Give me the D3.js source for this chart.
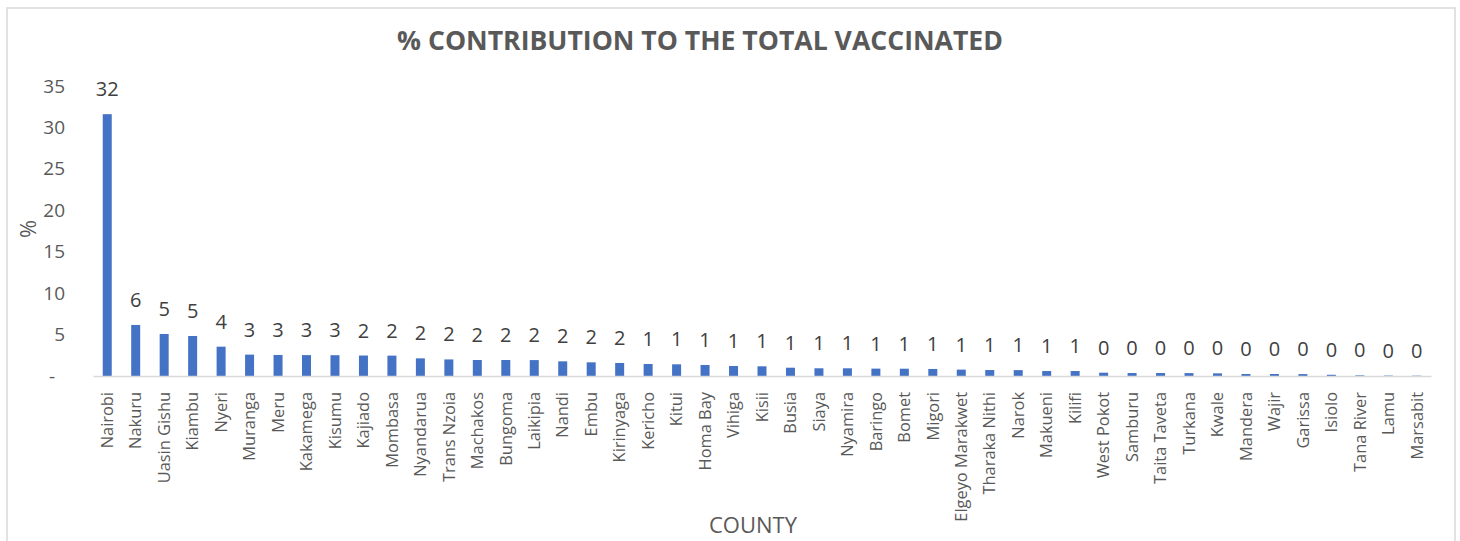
<!DOCTYPE html>
<html lang="en">
<head>
    <meta charset="UTF-8">
    <title>% Contribution to the total vaccinated</title>
    <script src="https://d3js.org/d3.v7.min.js" charset="utf-8"></script>
    <style>
        body {
            margin: 0;
            background: #fff;
            font-family: 'Open Sans', sans-serif;
        }
        #chart {
            width: 1460px;
            height: 541px;
        }
    </style>
</head>
<body>
    <div id="chart"></div>
    <script>
        // counties, in the order of the chart
        const counties = ["Nairobi", "Nakuru", "Uasin Gishu", "Kiambu", "Nyeri", "Muranga", "Meru",
            "Kakamega", "Kisumu", "Kajiado", "Mombasa", "Nyandarua", "Trans Nzoia", "Machakos",
            "Bungoma", "Laikipia", "Nandi", "Embu", "Kirinyaga", "Kericho", "Kitui", "Homa Bay",
            "Vihiga", "Kisii", "Busia", "Siaya", "Nyamira", "Baringo", "Bomet", "Migori",
            "Elgeyo Marakwet", "Tharaka Nithi", "Narok", "Makueni", "Kilifi", "West Pokot",
            "Samburu", "Taita Taveta", "Turkana", "Kwale", "Mandera", "Wajir", "Garissa",
            "Isiolo", "Tana River", "Lamu", "Marsabit"];

        // % of total vaccinated
        const share = [31.6, 6.16, 5.07, 4.83, 3.54, 2.58, 2.54,
            2.52, 2.51, 2.47, 2.46, 2.13, 2.0, 1.93,
            1.93, 1.92, 1.77, 1.65, 1.57, 1.45, 1.41, 1.33,
            1.21, 1.17, 1.0, 0.93, 0.93, 0.89, 0.88, 0.85,
            0.77, 0.72, 0.71, 0.6, 0.6, 0.4,
            0.36, 0.36, 0.35, 0.32, 0.24, 0.24, 0.23,
            0.15, 0.08, 0.05, 0.04];

        const yTicks = [0, 5, 10, 15, 20, 25, 30, 35];

        const width = 1460;
        const height = 541;
        const plot = {left: 93, right: 1431, top: 86, bottom: 376};

        const svg = d3.select("#chart")
            .append("svg")
            .attr("width", width)
            .attr("height", height);

        // chart frame
        svg.append("rect")
            .attr("x", 7)
            .attr("y", 8)
            .attr("width", 1448)
            .attr("height", 600)
            .attr("fill", "#fff")
            .attr("stroke", "#d9d9d9")
            .attr("stroke-width", 1.5);

        const x = d3.scaleBand()
            .domain(counties)
            .range([plot.left, plot.right])
            .paddingInner(0.684)
            .paddingOuter(0.342);

        const y = d3.scaleLinear()
            .domain([0, 35])
            .range([plot.bottom, plot.top]);

        const data = counties.map((c, i) => ({county: c, value: share[i]}));

        // title
        svg.append("text")
            .attr("x", 700)
            .attr("y", 50)
            .attr("text-anchor", "middle")
            .attr("font-size", 26.6)
            .attr("font-weight", "bold")
            .attr("fill", "#595959")
            .text("% CONTRIBUTION TO THE TOTAL VACCINATED");

        // y axis (no line, labels only)
        const yAxis = d3.axisLeft(y)
            .tickValues(yTicks)
            .tickSize(0)
            .tickPadding(0)
            .tickFormat(d => d === 0 ? "-" : d);

        const yg = svg.append("g")
            .attr("transform", "translate(65,0)")
            .call(yAxis);
        yg.select(".domain").remove();
        yg.selectAll("text")
            .attr("font-family", "'Open Sans', sans-serif")
            .attr("font-size", 19)
            .attr("fill", "#595959")
            .attr("dx", d => d === 0 ? -10 : 0);

        // bars
        svg.append("g")
            .selectAll("rect")
            .data(data)
            .enter()
            .append("rect")
            .attr("x", d => x(d.county))
            .attr("y", d => y(d.value))
            .attr("width", x.bandwidth())
            .attr("height", d => y(0) - y(d.value))
            .attr("fill", "#4472c4");

        // data labels
        svg.append("g")
            .selectAll("text")
            .data(data)
            .enter()
            .append("text")
            .attr("x", d => x(d.county) + x.bandwidth() / 2)
            .attr("y", d => y(d.value) - 18)
            .attr("text-anchor", "middle")
            .attr("font-size", 20)
            .attr("fill", "#404040")
            .text(d => d3.format(".0f")(d.value));

        // x axis
        const xAxis = d3.axisBottom(x).tickSize(0).tickPadding(0);
        const xg = svg.append("g")
            .attr("transform", `translate(0,${plot.bottom})`)
            .call(xAxis);
        xg.select(".domain")
            .attr("stroke", "#d9d9d9")
            .attr("stroke-width", 1.5);
        xg.selectAll("text")
            .attr("font-family", "'Open Sans', sans-serif")
            .attr("font-size", 16.4)
            .attr("fill", "#595959")
            .attr("text-anchor", "end")
            .attr("transform", "translate(0,16) rotate(-90)")
            .attr("x", 0)
            .attr("y", 0)
            .attr("dy", "0.35em");

        // axis titles
        svg.append("text")
            .attr("x", 753)
            .attr("y", 533)
            .attr("text-anchor", "middle")
            .attr("font-size", 22)
            .attr("fill", "#595959")
            .text("COUNTY");

        svg.append("text")
            .attr("transform", "translate(28,229) rotate(-90)")
            .attr("text-anchor", "middle")
            .attr("dy", "0.35em")
            .attr("font-size", 22)
            .attr("fill", "#595959")
            .text("%");
    </script>
</body>
</html>
